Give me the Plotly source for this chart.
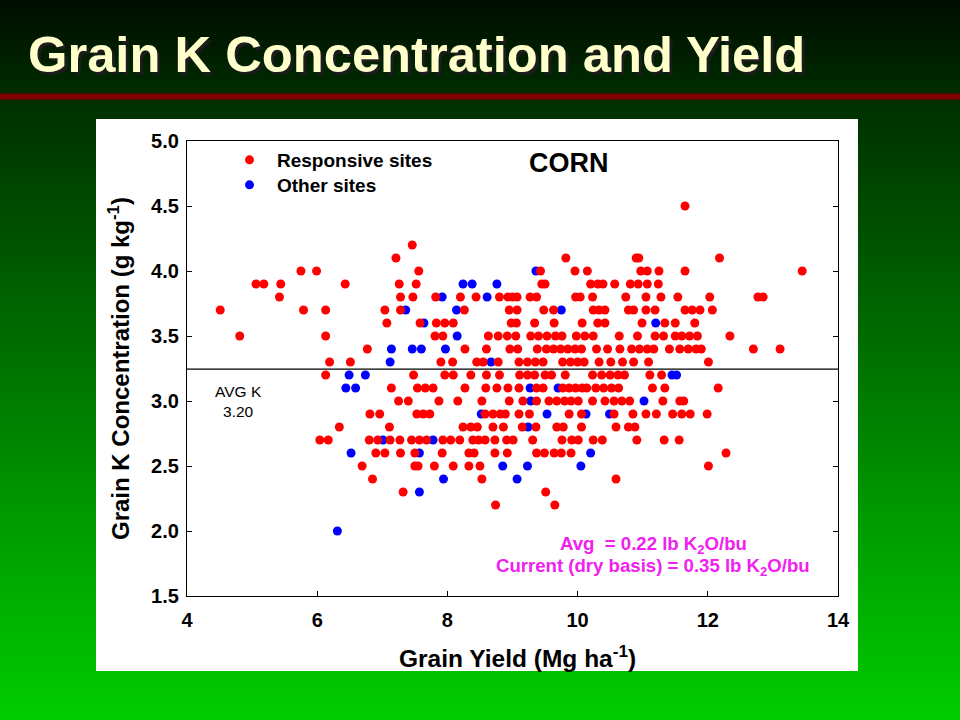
import plotly.graph_objects as go

# ---------------- data ----------------
# (grain yield Mg/ha, grain K g/kg)
responsive_sites = [
    (11.65, 4.5),
    (7.46, 4.2),
    (7.21, 4.1), (9.82, 4.1), (10.90, 4.1), (10.94, 4.1), (12.18, 4.1),
    (5.75, 4.0), (5.99, 4.0), (7.56, 4.0), (9.43, 4.0), (9.96, 4.0), (10.15, 4.0), (10.97, 4.0),
    (11.07, 4.0), (11.25, 4.0), (11.65, 4.0), (13.45, 4.0),
    (5.06, 3.9), (5.18, 3.9), (5.44, 3.9), (6.43, 3.9), (7.26, 3.9), (7.52, 3.9), (9.45, 3.9),
    (9.50, 3.9), (10.20, 3.9), (10.31, 3.9), (10.39, 3.9), (10.57, 3.9), (10.81, 3.9), (10.93, 3.9),
    (11.07, 3.9), (11.24, 3.9),
    (5.42, 3.8), (7.28, 3.8), (7.47, 3.8), (7.82, 3.8), (8.20, 3.8), (8.44, 3.8), (8.80, 3.8),
    (8.93, 3.8), (9.00, 3.8), (9.07, 3.8), (9.27, 3.8), (9.37, 3.8), (9.97, 3.8), (10.04, 3.8),
    (10.23, 3.8), (10.74, 3.8), (11.05, 3.8), (11.28, 3.8), (11.54, 3.8), (12.03, 3.8), (12.77, 3.8),
    (12.85, 3.8),
    (4.51, 3.7), (5.79, 3.7), (6.13, 3.7), (7.04, 3.7), (7.28, 3.7), (8.26, 3.7), (8.95, 3.7),
    (9.07, 3.7), (9.48, 3.7), (9.63, 3.7), (10.24, 3.7), (10.33, 3.7), (10.42, 3.7), (10.78, 3.7),
    (10.86, 3.7), (11.05, 3.7), (11.19, 3.7), (11.65, 3.7), (11.76, 3.7), (11.88, 3.7), (12.07, 3.7),
    (7.07, 3.6), (7.58, 3.6), (7.83, 3.6), (7.96, 3.6), (8.09, 3.6), (8.98, 3.6), (9.06, 3.6),
    (9.34, 3.6), (9.64, 3.6), (10.07, 3.6), (10.31, 3.6), (10.42, 3.6), (10.99, 3.6), (11.34, 3.6),
    (11.50, 3.6), (11.80, 3.6),
    (4.81, 3.5), (6.13, 3.5), (7.81, 3.5), (7.93, 3.5), (8.63, 3.5), (8.78, 3.5), (8.92, 3.5),
    (9.05, 3.5), (9.28, 3.5), (9.40, 3.5), (9.53, 3.5), (9.66, 3.5), (9.76, 3.5), (9.98, 3.5),
    (10.11, 3.5), (10.24, 3.5), (10.64, 3.5), (10.92, 3.5), (11.19, 3.5), (11.32, 3.5), (11.50, 3.5),
    (11.60, 3.5), (11.72, 3.5), (11.84, 3.5), (12.34, 3.5),
    (6.77, 3.4), (8.27, 3.4), (8.60, 3.4), (8.96, 3.4), (9.08, 3.4), (9.38, 3.4), (9.52, 3.4),
    (9.63, 3.4), (9.74, 3.4), (9.85, 3.4), (9.96, 3.4), (10.06, 3.4), (10.29, 3.4), (10.46, 3.4),
    (10.65, 3.4), (10.83, 3.4), (10.95, 3.4), (11.07, 3.4), (11.17, 3.4), (11.41, 3.4), (11.57, 3.4),
    (11.70, 3.4), (11.82, 3.4), (11.90, 3.4), (12.70, 3.4), (13.11, 3.4),
    (6.19, 3.3), (6.51, 3.3), (7.90, 3.3), (8.08, 3.3), (8.45, 3.3), (8.55, 3.3), (8.78, 3.3),
    (9.10, 3.3), (9.23, 3.3), (9.35, 3.3), (9.47, 3.3), (9.77, 3.3), (9.89, 3.3), (10.00, 3.3),
    (10.10, 3.3), (10.33, 3.3), (10.51, 3.3), (10.69, 3.3), (10.86, 3.3), (11.09, 3.3), (12.01, 3.3),
    (6.13, 3.2), (7.48, 3.2), (7.96, 3.2), (8.09, 3.2), (8.36, 3.2), (8.60, 3.2), (8.80, 3.2),
    (9.11, 3.2), (9.23, 3.2), (9.34, 3.2), (9.50, 3.2), (9.60, 3.2), (9.81, 3.2), (10.23, 3.2),
    (10.37, 3.2), (10.50, 3.2), (10.62, 3.2), (10.72, 3.2), (11.11, 3.2), (11.29, 3.2),
    (7.14, 3.1), (7.54, 3.1), (7.66, 3.1), (7.78, 3.1), (8.27, 3.1), (8.59, 3.1), (8.76, 3.1),
    (8.93, 3.1), (9.10, 3.1), (9.37, 3.1), (9.47, 3.1), (9.77, 3.1), (9.87, 3.1), (9.97, 3.1),
    (10.07, 3.1), (10.14, 3.1), (10.28, 3.1), (10.40, 3.1), (10.52, 3.1), (10.63, 3.1), (11.15, 3.1),
    (11.34, 3.1), (12.16, 3.1),
    (7.25, 3.0), (7.40, 3.0), (7.87, 3.0), (8.16, 3.0), (8.53, 3.0), (8.95, 3.0), (9.16, 3.0),
    (9.37, 3.0), (9.56, 3.0), (9.68, 3.0), (9.80, 3.0), (9.90, 3.0), (10.01, 3.0), (10.23, 3.0),
    (10.42, 3.0), (10.56, 3.0), (10.68, 3.0), (10.80, 3.0), (11.31, 3.0), (11.57, 3.0), (11.63, 3.0),
    (6.81, 2.9), (6.96, 2.9), (7.53, 2.9), (7.63, 2.9), (7.73, 2.9), (8.58, 2.9), (8.70, 2.9),
    (8.81, 2.9), (8.89, 2.9), (9.10, 2.9), (9.26, 2.9), (9.87, 2.9), (10.06, 2.9), (10.56, 2.9),
    (10.85, 2.9), (11.05, 2.9), (11.21, 2.9), (11.46, 2.9), (11.60, 2.9), (11.73, 2.9), (11.99, 2.9),
    (6.34, 2.8), (7.11, 2.8), (8.24, 2.8), (8.36, 2.8), (8.46, 2.8), (8.70, 2.8), (8.86, 2.8),
    (9.15, 2.8), (9.36, 2.8), (9.68, 2.8), (9.78, 2.8), (10.06, 2.8), (10.59, 2.8), (10.78, 2.8),
    (10.88, 2.8),
    (6.04, 2.7), (6.17, 2.7), (6.80, 2.7), (6.93, 2.7), (7.12, 2.7), (7.27, 2.7), (7.45, 2.7),
    (7.57, 2.7), (7.68, 2.7), (7.93, 2.7), (8.05, 2.7), (8.19, 2.7), (8.39, 2.7), (8.48, 2.7),
    (8.58, 2.7), (8.73, 2.7), (8.91, 2.7), (9.01, 2.7), (9.31, 2.7), (9.76, 2.7), (9.91, 2.7),
    (10.01, 2.7), (10.24, 2.7), (10.38, 2.7), (10.91, 2.7), (11.33, 2.7), (11.56, 2.7),
    (6.90, 2.6), (7.04, 2.6), (7.28, 2.6), (7.50, 2.6), (7.92, 2.6), (8.33, 2.6), (8.41, 2.6),
    (8.73, 2.6), (8.92, 2.6), (9.37, 2.6), (9.49, 2.6), (9.64, 2.6), (9.75, 2.6), (9.90, 2.6),
    (12.28, 2.6),
    (6.69, 2.5), (7.50, 2.5), (7.55, 2.5), (7.80, 2.5), (8.09, 2.5), (8.33, 2.5), (8.50, 2.5),
    (12.01, 2.5),
    (6.85, 2.4), (8.53, 2.4), (10.59, 2.4),
    (7.32, 2.3), (9.51, 2.3),
    (8.74, 2.2), (9.65, 2.2),
]

other_sites = [
    (9.36, 4.0),
    (8.24, 3.9), (8.38, 3.9), (8.76, 3.9),
    (7.92, 3.8), (8.61, 3.8),
    (7.36, 3.7), (8.14, 3.7), (9.75, 3.7),
    (7.64, 3.6), (11.20, 3.6),
    (8.15, 3.5),
    (7.14, 3.4), (7.46, 3.4), (7.60, 3.4), (7.97, 3.4),
    (7.12, 3.3), (8.67, 3.3),
    (6.49, 3.2), (6.74, 3.2), (11.45, 3.2), (11.52, 3.2),
    (6.44, 3.1), (6.59, 3.1), (9.27, 3.1), (9.70, 3.1),
    (9.28, 3.0), (11.02, 3.0),
    (8.52, 2.9), (9.53, 2.9), (10.13, 2.9), (10.49, 2.9),
    (9.24, 2.8),
    (7.01, 2.7), (7.78, 2.7),
    (6.52, 2.6), (7.57, 2.6), (10.20, 2.6),
    (8.85, 2.5), (9.23, 2.5), (10.05, 2.5),
    (7.94, 2.4), (9.07, 2.4),
    (7.57, 2.3),
    (6.31, 2.0),
]

x_tick_vals = [4, 6, 8, 10, 12, 14]
y_tick_vals = [1.5, 2.0, 2.5, 3.0, 3.5, 4.0, 4.5, 5.0]
avg_k_line = 3.245

red_yield = [p[0] for p in responsive_sites]
red_k = [p[1] for p in responsive_sites]
blue_yield = [p[0] for p in other_sites]
blue_k = [p[1] for p in other_sites]

# ---------------- layout geometry (pixels) ----------------
FW, FH = 960, 720
L, R, T, B = 187, 838, 141, 596
PW, PH = R - L, B - T
FONT = "Liberation Sans, Arial, sans-serif"


def px(xp):
    return (xp - L) / PW


def py(yp):
    return (B - yp) / PH


fig = go.Figure()

fig.add_trace(go.Scatter(
    x=blue_yield, y=blue_k, mode="markers", name="<b>Other sites</b>",
    marker=dict(color="#0000ff", size=9, line=dict(width=0)),
    legend="legend2",
))
fig.add_trace(go.Scatter(
    x=red_yield, y=red_k, mode="markers", name="<b>Responsive sites</b>",
    marker=dict(color="#ff0000", size=9, line=dict(width=0)),
    legend="legend",
))

shapes = []
# vertical background gradient (dark at top -> bright green at bottom)
stops = [(0, 12), (110, 50), (720, 205)]
step = 8
for i in range(0, FH, step):
    yc = i + step / 2
    for (a, ga), (b, gb) in zip(stops[:-1], stops[1:]):
        if a <= yc <= b:
            g = ga + (gb - ga) * (yc - a) / (b - a)
            break
    shapes.append(dict(
        type="rect", xref="paper", yref="paper", layer="below",
        x0=px(0), x1=px(FW), y0=py(i + step + 0.5), y1=py(i),
        fillcolor=f"rgb(0,{int(g)},0)", line=dict(width=0),
    ))
# dark red rule under the title
shapes.append(dict(type="rect", xref="paper", yref="paper", layer="below",
                   x0=px(0), x1=px(FW), y0=py(99.5), y1=py(93.5),
                   fillcolor="#800000", line=dict(width=0)))
# white chart panel
shapes.append(dict(type="rect", xref="paper", yref="paper", layer="below",
                   x0=px(96), x1=px(858), y0=py(671), y1=py(119),
                   fillcolor="#ffffff", line=dict(width=0)))
# average K line
shapes.append(dict(type="line", xref="x", yref="y", x0=4, x1=14,
                   y0=avg_k_line, y1=avg_k_line,
                   line=dict(color="black", width=1.2)))

ann = []
title_text = "<b>Grain K Concentration and Yield</b>"
ann.append(dict(text=title_text, xref="paper", yref="paper", x=px(29), y=py(57),
                xanchor="left", yanchor="middle", showarrow=False,
                font=dict(family=FONT, size=50.7, color="#1c1c1c")))
ann.append(dict(text=title_text, xref="paper", yref="paper", x=px(26), y=py(54),
                xanchor="left", yanchor="middle", showarrow=False,
                font=dict(family=FONT, size=50.7, color="#ffffcc")))
# axis titles
ann.append(dict(text="<b>Grain Yield (Mg ha<sup>-1</sup>)</b>", xref="paper", yref="paper",
                x=px(517), y=py(656), xanchor="center", yanchor="middle", showarrow=False,
                font=dict(family=FONT, size=24.5, color="black")))
ann.append(dict(text="<b>Grain K Concentration (g kg<sup>-1</sup>)</b>", xref="paper", yref="paper",
                x=px(119), y=py(369), xanchor="center", yanchor="middle", showarrow=False,
                textangle=-90,
                font=dict(family=FONT, size=24, color="black")))
ann.append(dict(text="<b>CORN</b>", xref="paper", yref="paper", x=px(569), y=py(163),
                xanchor="center", yanchor="middle", showarrow=False,
                font=dict(family=FONT, size=27, color="black")))
ann.append(dict(text="AVG K<br>3.20", xref="paper", yref="paper", x=px(238), y=py(401),
                xanchor="center", yanchor="middle", showarrow=False,
                font=dict(family=FONT, size=15.5, color="black")))
ann.append(dict(text="<b>Avg  = 0.22 lb K<sub>2</sub>O/bu</b>", xref="paper", yref="paper",
                x=px(653), y=py(545), xanchor="center", yanchor="middle", showarrow=False,
                font=dict(family=FONT, size=18.6, color="#f020f0")))
ann.append(dict(text="<b>Current (dry basis) = 0.35 lb K<sub>2</sub>O/bu</b>", xref="paper", yref="paper",
                x=px(653), y=py(567), xanchor="center", yanchor="middle", showarrow=False,
                font=dict(family=FONT, size=18.6, color="#f020f0")))

legend_common = dict(xanchor="left", yanchor="top", bgcolor="rgba(0,0,0,0)", borderwidth=0,
                     font=dict(family=FONT, size=19, color="black"),
                     itemsizing="trace", itemwidth=45)

fig.update_layout(
    width=FW, height=FH,
    margin=dict(l=L, r=FW - R, t=T, b=FH - B, pad=0),
    paper_bgcolor="black", plot_bgcolor="rgba(0,0,0,0)",
    shapes=shapes, annotations=ann,
    showlegend=True,
    legend=dict(x=px(222), y=py(141), **legend_common),
    legend2=dict(x=px(222), y=py(166), **legend_common),
    font=dict(family=FONT, color="black"),
)
fig.update_xaxes(range=[4, 14], tickvals=x_tick_vals, ticktext=[f"<b>{v}</b>" for v in x_tick_vals],
                 showgrid=False, zeroline=False, showline=True, linecolor="black", linewidth=1.3,
                 mirror=True, ticks="inside", ticklen=5, tickcolor="black",
                 tickfont=dict(size=20, color="black"), ticklabelstandoff=6)
fig.update_yaxes(range=[1.5, 5.0], tickvals=y_tick_vals, ticktext=[f"<b>{v:.1f}</b>" for v in y_tick_vals],
                 showgrid=False, zeroline=False, showline=True, linecolor="black", linewidth=1.3,
                 mirror="ticks", ticks="inside", ticklen=5, tickcolor="black",
                 tickfont=dict(size=20, color="black"), ticklabelstandoff=3)

fig.write_html(
    "out.html",
    config={"displayModeBar": False},
    post_script="document.body.style.margin='0';document.body.style.background='black';",
)
